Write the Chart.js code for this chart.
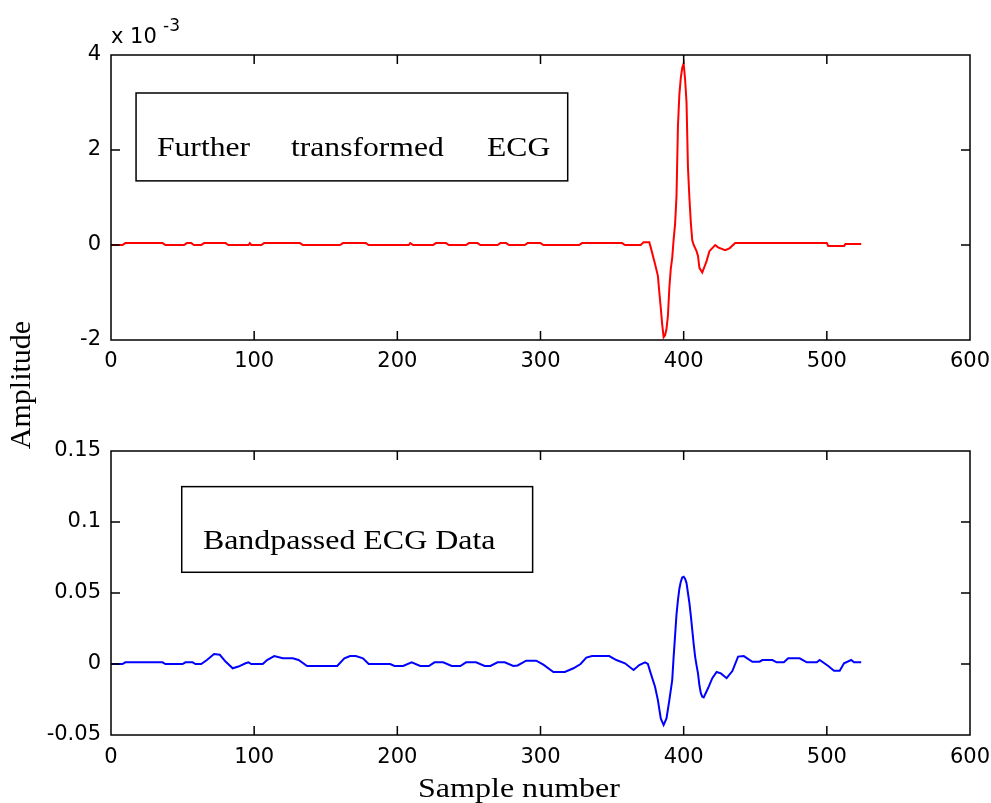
<!DOCTYPE html>
<html>
<head>
<meta charset="utf-8">
<script src="https://cdn.jsdelivr.net/npm/chart.js@4.4.1/dist/chart.umd.min.js"></script>
<style>
  body { margin: 0; background: #fff; }
  canvas { position: absolute; left: 0; top: 0; }
</style>
</head>
<body>
<canvas id="chartTop" width="991" height="803"></canvas>
<canvas id="chartBot" width="991" height="803"></canvas>
<script>
// shared x axis (sample number)
var xTicks = [0, 100, 200, 300, 400, 500, 600];
var xLabels = ['0', '100', '200', '300', '400', '500', '600'];

// top: further transformed ECG, amplitude in units of 1e-3
var topYTicks = [-2, 0, 2, 4];
var topYLabels = ['-2', '0', '2', '4'];
var topSample = [
  0, 8, 10, 36, 38, 51, 53, 56, 58, 63,
  65, 80, 82, 96, 97, 98, 105, 107, 132, 134,
  160, 162, 178, 180, 208, 209, 211, 225, 227, 234,
  236, 248, 250, 256, 258, 270, 272, 276, 278, 289,
  291, 300, 302, 327, 329, 357, 359, 370, 372, 376,
  377, 380, 382, 383, 384, 385, 386, 387, 388, 389,
  390, 391, 392, 393, 394, 395, 396, 397, 398, 399,
  400, 401, 402, 403, 404, 405, 406, 407, 409, 410,
  411, 413, 416, 418, 422, 424, 429, 432, 436, 500,
  501, 512, 513, 524
];
var topAmp = [
  0, 0, .04, .04, 0, 0, .04, .04, 0, 0,
  .04, .04, 0, 0, .04, 0, 0, .04, .04, 0,
  0, .04, .04, 0, 0, .04, 0, 0, .04, .04,
  0, 0, .04, .04, 0, 0, .04, .04, 0, 0,
  .04, .04, 0, 0, .04, .04, 0, 0, .06, .06,
  -.05, -.4, -.65, -1.0, -1.32, -1.67, -1.94, -1.9, -1.77, -1.49,
  -.9, -.5, -.27, .12, .44, 1.03, 2.5, 3.17, 3.52, 3.73,
  3.82, 3.49, 3.0, 1.63, 1.0, .47, .1, 0, -.13, -.23,
  -.48, -.58, -.34, -.13, 0, -.05, -.11, -.07, .04, .04,
  -.02, -.02, .02, .02
];

// bottom: bandpassed ECG
var botYTicks = [-0.05, 0, 0.05, 0.1, 0.15];
var botYLabels = ['-0.05', '0', '0.05', '0.1', '0.15'];
var botSample = [
  0, 8, 10, 36, 38, 50, 52, 57, 59, 63,
  67, 72, 76, 80, 85, 89, 94, 96, 98, 106,
  109, 114, 120, 127, 131, 137, 158, 163, 167, 171,
  176, 180, 195, 198, 204, 210, 216, 222, 226, 232,
  238, 244, 248, 255, 261, 265, 270, 275, 281, 284,
  290, 297, 302, 309, 317, 323, 328, 332, 336, 348,
  353, 359, 365, 369, 373, 375, 377, 380, 382, 384,
  386, 388, 390, 392, 393, 394, 395, 396, 397, 398,
  399, 400, 401, 402, 403, 404, 405, 406, 407, 408,
  409, 410, 411, 412, 413, 414, 417, 420, 423, 426,
  430, 434, 438, 442, 448, 453, 455, 462, 465, 470,
  473, 481, 486, 493, 495, 501, 505, 509, 512, 517,
  519, 524
];
var botAmp = [
  0, 0, .0012, .0012, 0, 0, .0012, .0012, 0, 0,
  .0028, .007, .0065, .0017, -.003, -.0018, .0005, .0012, 0, 0,
  .0028, .0056, .004, .004, .0028, -.0014, -.0014, .004, .0056, .0056,
  .004, 0, 0, -.0014, -.0014, .0012, -.0014, -.0014, .0012, .0012,
  -.0014, -.0014, .0012, .0012, -.0014, -.0014, .0012, .0012, -.0014, -.001,
  .0023, .0023, -.0005, -.0056, -.0056, -.003, 0, .0045, .0056, .0056,
  .0028, .0005, -.0042, -.0007, .0012, 0, -.0066, -.016, -.0254, -.0383,
  -.043, -.0383, -.0254, -.0113, .0052, .02, .035, .045, .053, .058,
  .061, .0615, .06, .057, .05, .043, .034, .024, .014, .0052,
  -.001, -.0066, -.015, -.0206, -.023, -.0235, -.0171, -.01, -.0056, -.0066,
  -.01, -.005, .0052, .0056, .0016, .0016, .0028, .0028, .0012, .0012,
  .004, .004, .0012, .0012, .0028, -.0014, -.0047, -.0047, .0005, .0028,
  .0012, .0012
];

var tickFont = { family: '"DejaVu Sans", sans-serif', size: 21 };
var serif = '"Liberation Serif", "Times New Roman", serif';

function pairs(xs, ys) {
  return xs.map(function(v, i) { return { x: v, y: ys[i] }; });
}

// matlab style frame: box, inward ticks, annotation boxes and texts
var matlabAxes = {
  id: 'matlabAxes',
  afterDraw: function(chart, args, opts) {
    var ctx = chart.ctx, a = chart.chartArea;
    var x = chart.scales.x, y = chart.scales.y;
    ctx.save();
    ctx.strokeStyle = '#000';
    ctx.lineWidth = 1.5;
    ctx.strokeRect(a.left, a.top, a.right - a.left, a.bottom - a.top);
    ctx.beginPath();
    x.ticks.forEach(function(t) {
      if (t.value <= x.min || t.value >= x.max) return;
      var px = x.getPixelForValue(t.value);
      ctx.moveTo(px, a.bottom); ctx.lineTo(px, a.bottom - 9);
      ctx.moveTo(px, a.top); ctx.lineTo(px, a.top + 9);
    });
    y.ticks.forEach(function(t) {
      if (t.value <= y.min + 1e-9 || t.value >= y.max - 1e-9) return;
      var py = y.getPixelForValue(t.value);
      ctx.moveTo(a.left, py); ctx.lineTo(a.left + 9, py);
      ctx.moveTo(a.right, py); ctx.lineTo(a.right - 9, py);
    });
    ctx.stroke();

    (opts.boxes || []).forEach(function(b) {
      var x1 = x.getPixelForValue(b.x1), x2 = x.getPixelForValue(b.x2);
      var y1 = y.getPixelForValue(b.y1), y2 = y.getPixelForValue(b.y2);
      ctx.lineWidth = 1.5;
      ctx.strokeRect(x1, y1, x2 - x1, y2 - y1);
    });

    ctx.fillStyle = '#000';
    (opts.texts || []).forEach(function(t) {
      var px = t.data ? x.getPixelForValue(t.x) : t.x;
      var py = t.data ? y.getPixelForValue(t.y) : t.y;
      ctx.save();
      ctx.font = t.font;
      ctx.textAlign = t.align || 'left';
      ctx.textBaseline = 'alphabetic';
      ctx.translate(px, py);
      if (t.rotate) ctx.rotate(t.rotate);
      ctx.scale(t.scaleX || 1, 1);
      ctx.fillText(t.text, 0, 0);
      ctx.restore();
    });
    ctx.restore();
  }
};

function makeChart(id, cfg) {
  return new Chart(document.getElementById(id), {
    type: 'line',
    data: {
      datasets: [{
        data: cfg.data,
        borderColor: cfg.color,
        borderWidth: 2,
        pointRadius: 0,
        tension: 0,
        fill: false
      }]
    },
    options: {
      responsive: false,
      animation: false,
      events: [],
      layout: { padding: cfg.padding },
      plugins: {
        legend: { display: false },
        tooltip: { enabled: false },
        matlabAxes: { boxes: cfg.boxes, texts: cfg.texts }
      },
      scales: {
        x: {
          type: 'linear', min: 0, max: 600,
          afterBuildTicks: function(s) { s.ticks = xTicks.map(function(v) { return { value: v }; }); },
          afterFit: function(s) { s.height = cfg.xHeight; s.paddingLeft = 0; s.paddingRight = 0; },
          ticks: {
            font: tickFont, color: '#000', padding: cfg.xPad, maxRotation: 0, autoSkip: false,
            callback: function(v, i) { return xLabels[i]; }
          },
          grid: { display: false, drawTicks: false },
          border: { display: false }
        },
        y: {
          type: 'linear', min: cfg.yTicks[0], max: cfg.yTicks[cfg.yTicks.length - 1],
          afterBuildTicks: function(s) { s.ticks = cfg.yTicks.map(function(v) { return { value: v }; }); },
          afterFit: function(s) { s.width = 111; s.paddingTop = 0; s.paddingBottom = 0; },
          ticks: {
            font: tickFont, color: '#000', padding: 10, autoSkip: false,
            callback: function(v, i) { return cfg.yLabels[i]; }
          },
          grid: { display: false, drawTicks: false },
          border: { display: false }
        }
      }
    },
    plugins: [matlabAxes]
  });
}

makeChart('chartTop', {
  data: pairs(topSample, topAmp),
  color: '#ff0000',
  yTicks: topYTicks, yLabels: topYLabels,
  padding: { top: 55, right: 21, bottom: 423, left: 0 },
  xHeight: 40, xPad: 9,
  boxes: [{ x1: 17.5, x2: 319, y1: 3.2, y2: 1.35 }],
  texts: [
    { data: true, x: 32.1, y: 1.87, text: 'Further', font: '28px ' + serif, scaleX: 1.13 },
    { data: true, x: 125.7, y: 1.87, text: 'transformed', font: '28px ' + serif, scaleX: 1.13 },
    { data: true, x: 262.6, y: 1.87, text: 'ECG', font: '28px ' + serif, scaleX: 1.13 },
    { x: 111, y: 43, text: 'x 10', font: '21px "DejaVu Sans", sans-serif' },
    { x: 163, y: 31, text: '-3', font: '17px "DejaVu Sans", sans-serif' }
  ]
});

makeChart('chartBot', {
  data: pairs(botSample, botAmp),
  color: '#0000ff',
  yTicks: botYTicks, yLabels: botYLabels,
  padding: { top: 451, right: 21, bottom: 0, left: 0 },
  xHeight: 68, xPad: 10,
  boxes: [{ x1: 49.4, x2: 294.5, y1: 0.1249, y2: 0.0646 }],
  texts: [
    { data: true, x: 64.2, y: 0.0810, text: 'Bandpassed ECG Data', font: '28px ' + serif, scaleX: 1.14 },
    { x: 30, y: 385, text: 'Amplitude', font: '30px ' + serif, align: 'center', rotate: -Math.PI / 2 },
    { x: 519, y: 797, text: 'Sample number', font: '28px ' + serif, align: 'center', scaleX: 1.144 }
  ]
});
</script>
</body>
</html>
